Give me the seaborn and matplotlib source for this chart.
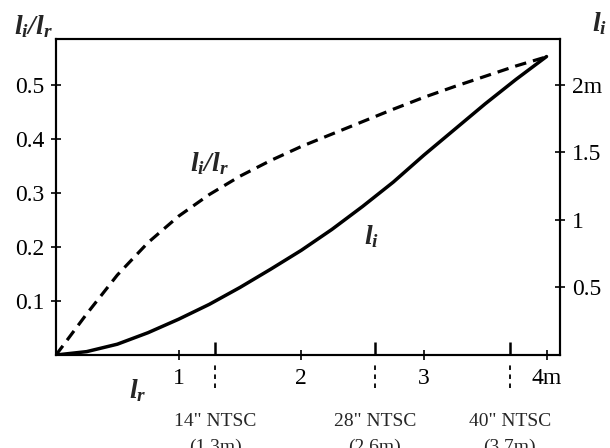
import matplotlib
matplotlib.use("Agg")
import matplotlib.pyplot as plt
import pandas as pd
import seaborn as sns

# ---- data ----
l_r = [0.0, 0.25, 0.5, 0.75, 1.0, 1.25, 1.5, 1.75, 2.0, 2.25, 2.5, 2.75, 3.0, 3.25, 3.5, 3.75, 4.0]
ratio = [0.0, 0.076, 0.148, 0.208, 0.257, 0.297, 0.331, 0.360, 0.386, 0.409, 0.432, 0.455,
         0.477, 0.497, 0.516, 0.535, 0.552]
l_i = [0.0, 0.025, 0.08, 0.165, 0.265, 0.375, 0.50, 0.635, 0.775, 0.93, 1.10, 1.28, 1.48,
       1.67, 1.86, 2.04, 2.21]

left_ticks = [0.1, 0.2, 0.3, 0.4, 0.5]
left_labels = ["0.1", "0.2", "0.3", "0.4", "0.5"]
right_ticks = [0.5, 1.0, 1.5, 2.0]
right_labels = ["0.5", "1", "1.5", "2m"]
x_ticks = [1, 2, 3, 4]
x_labels = ["1", "2", "3", "4m"]
ntsc_pos = [1.3, 2.6, 3.7]
ntsc_names = ['14" NTSC', '28" NTSC', '40" NTSC']
ntsc_dist = ["(1.3m)", "(2.6m)", "(3.7m)"]

sns.set_theme(style="white")
plt.rcParams['font.family'] = ['Liberation Serif', 'DejaVu Serif']
plt.rcParams['mathtext.fontset'] = 'custom'
plt.rcParams['mathtext.rm'] = 'Liberation Serif:italic:bold'
plt.rcParams['mathtext.it'] = 'Liberation Serif:italic:bold'
plt.rcParams['mathtext.bf'] = 'Liberation Serif:italic:bold'

W, H = 610, 448
fig = plt.figure(figsize=(W / 100, H / 100), dpi=100)
L, R, T, B = 56, 560, 39, 355
ax = fig.add_axes([L / W, 1 - B / H, (R - L) / W, (B - T) / H])

df = pd.DataFrame({"l_r": l_r, "ratio": ratio, "l_i": l_i})
sns.lineplot(data=df, x="l_r", y="ratio", ax=ax, color="black", lw=2.3,
             linestyle=(0, (3.6, 2.2)))
ax2 = ax.twinx()
sns.lineplot(data=df, x="l_r", y="l_i", ax=ax2, color="black", lw=2.5)

ytop = 0.585
ax.set_xlim(0, 4.11)
ax.set_ylim(0, ytop)
ax2.set_ylim(0, 4 * ytop)
ax.set_xlabel("")
ax.set_ylabel("")
ax2.set_ylabel("")

for a in (ax, ax2):
    for s in a.spines.values():
        s.set_color("black")
        s.set_linewidth(1.5)

ax.set_yticks(left_ticks, left_labels)
ax2.set_yticks(right_ticks, right_labels)
ax.set_xticks(x_ticks, x_labels)
ax.set_xticks(ntsc_pos, minor=True)
ax.tick_params(axis="y", which="major", direction="inout", length=7, width=1.2,
               labelsize=17, pad=5, left=True, colors="black")
ax2.tick_params(axis="y", which="major", direction="inout", length=7, width=1.2,
                labelsize=17, pad=5, right=True, colors="black")
ax.tick_params(axis="x", which="major", direction="inout", length=7, width=1.2,
               labelsize=17, pad=6, bottom=True, colors="black")
ax.tick_params(axis="x", which="minor", direction="in", length=9.5, width=1.8,
               bottom=True, colors="black")

xt = ax.get_xaxis_transform()
ax.vlines(ntsc_pos, -0.105, -0.022, transform=xt, colors="black", lw=1.3,
          linestyles=(0, (2.5, 2.5)), clip_on=False)
for p, n, d in zip(ntsc_pos, ntsc_names, ntsc_dist):
    ax.text(p, -0.21, n, transform=xt, ha="center", va="center", fontsize=14)
    ax.text(p, -0.293, d, transform=xt, ha="center", va="center", fontsize=14)

fig.text(33 / W, 1 - 27 / H, r"$l_i/l_r$", ha="center", va="center", fontsize=20)
fig.text(600 / W, 1 - 24 / H, r"$l_i$", ha="center", va="center", fontsize=20)
fig.text(138 / W, 1 - 391 / H, r"$l_r$", ha="center", va="center", fontsize=20)
ax.text(1.25, 0.355, r"$l_i/l_r$", ha="center", va="center", fontsize=20)
ax.text(2.57, 0.22, r"$l_i$", ha="center", va="center", fontsize=20)

fig.savefig("out.png", dpi=100)
